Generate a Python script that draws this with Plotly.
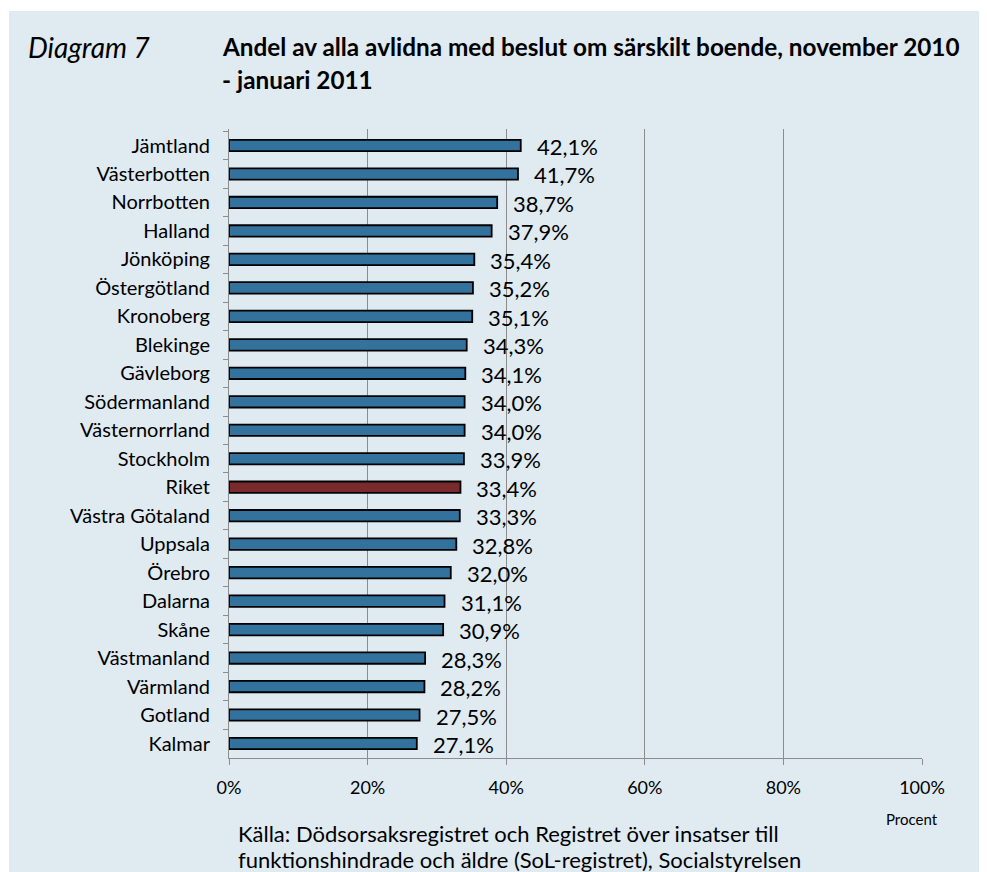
import plotly.graph_objects as go

regions = ["Jämtland", "Västerbotten", "Norrbotten", "Halland", "Jönköping", "Östergötland",
           "Kronoberg", "Blekinge", "Gävleborg", "Södermanland", "Västernorrland", "Stockholm",
           "Riket", "Västra Götaland", "Uppsala", "Örebro", "Dalarna", "Skåne", "Västmanland",
           "Värmland", "Gotland", "Kalmar"]
values = [42.1, 41.7, 38.7, 37.9, 35.4, 35.2, 35.1, 34.3, 34.1, 34.0, 34.0, 33.9,
          33.4, 33.3, 32.8, 32.0, 31.1, 30.9, 28.3, 28.2, 27.5, 27.1]
x_ticks = [0, 20, 40, 60, 80, 100]
x_tick_labels = ["0%", "20%", "40%", "60%", "80%", "100%"]

FONT = "Lato"
BLUE = "#33729d"
RED = "#7a2a2c"
BG = "#dfeaf1"
GRID = "#8c8c8c"

# page geometry (the page body adds an 8px offset)
W, H = 979, 864
L, R, T, B = 221, 65, 121, 114
PW, PH = W - L - R, H - T - B


def px(page_x):
    return (page_x - 8 - L) / PW


def py(page_y):
    return (H - (page_y - 8) - B) / PH


colors = [RED if r == "Riket" else BLUE for r in regions]

fig = go.Figure()
fig.add_trace(go.Bar(
    x=values, y=regions, orientation="h",
    marker=dict(color=colors, line=dict(color="#000000", width=1.8)),
    width=0.4, hoverinfo="skip",
))

for r, v in zip(regions, values):
    fig.add_annotation(x=v, y=r, xref="x", yref="y",
                       text=f"{v:.1f}%".replace(".", ","),
                       showarrow=False, xanchor="left", yanchor="middle",
                       xshift=14, yshift=-1,
                       font=dict(family=FONT, size=22, color="#000000"))

fig.add_shape(type="rect", xref="paper", yref="paper",
              x0=px(9), x1=px(1000), y0=py(900), y1=py(11),
              fillcolor=BG, line=dict(width=0), layer="below")

fig.add_annotation(xref="paper", yref="paper", x=px(26), y=py(47),
                   text="<i>Diagram 7</i>", showarrow=False, xanchor="left", yanchor="middle",
                   font=dict(family=FONT, size=28, color="#000000"))
fig.add_annotation(xref="paper", yref="paper", x=px(220), y=py(46),
                   text="<b>Andel av alla avlidna med beslut om särskilt boende, november 2010</b>",
                   showarrow=False, xanchor="left", yanchor="middle",
                   font=dict(family=FONT, size=24.3, color="#000000"))
fig.add_annotation(xref="paper", yref="paper", x=px(220), y=py(80),
                   text="<b>- januari 2011</b>",
                   showarrow=False, xanchor="left", yanchor="middle",
                   font=dict(family=FONT, size=24.3, color="#000000"))
fig.add_annotation(xref="paper", yref="paper", x=px(912), y=py(819),
                   text="Procent", showarrow=False, xanchor="center", yanchor="middle",
                   font=dict(family=FONT, size=15, color="#000000"))
fig.add_annotation(xref="paper", yref="paper", x=px(236), y=py(833),
                   text="Källa: Dödsorsaksregistret och Registret över insatser till",
                   showarrow=False, xanchor="left", yanchor="middle",
                   font=dict(family=FONT, size=22, color="#000000"))
fig.add_annotation(xref="paper", yref="paper", x=px(236), y=py(859),
                   text="funktionshindrade och äldre (SoL-registret), Socialstyrelsen",
                   showarrow=False, xanchor="left", yanchor="middle",
                   font=dict(family=FONT, size=22, color="#000000"))

fig.update_layout(
    width=W, height=H,
    margin=dict(l=L, r=R, t=T, b=B, autoexpand=False),
    paper_bgcolor="#ffffff", plot_bgcolor="#ffffff",
    showlegend=False,
    font=dict(family=FONT, color="#000000"),
)
fig.update_xaxes(range=[0, 100], tickvals=x_ticks, ticktext=x_tick_labels,
                 showgrid=True, gridcolor=GRID, gridwidth=1,
                 showline=True, linecolor=GRID, linewidth=1,
                 ticks="outside", ticklen=6, tickcolor=GRID,
                 ticklabelstandoff=7,
                 tickfont=dict(family=FONT, size=18, color="#000000"),
                 zeroline=False, fixedrange=True)
fig.update_yaxes(autorange="reversed", type="category",
                 showline=True, linecolor=GRID, linewidth=1,
                 ticks="outside", ticklen=5, tickcolor=GRID,
                 tickson="boundaries", ticklabelstandoff=14,
                 tickfont=dict(family=FONT, size=20, color="#000000"),
                 showgrid=False, fixedrange=True)

fig.write_html("out.html")
